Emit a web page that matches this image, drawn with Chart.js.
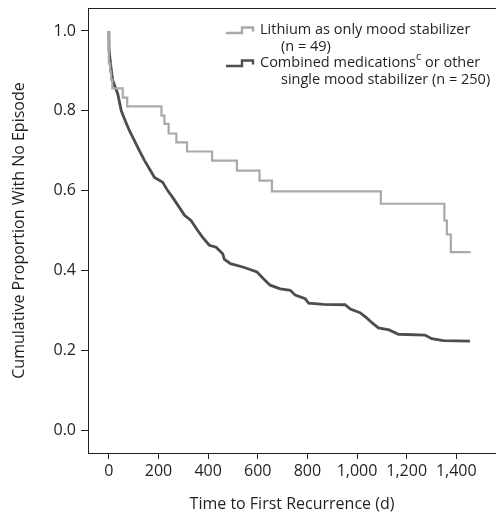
<!DOCTYPE html>
<html>
<head>
<meta charset="utf-8">
<script src="https://cdn.jsdelivr.net/npm/chart.js@4.4.1/dist/chart.umd.min.js"></script>
<style>
  html, body { margin: 0; padding: 0; background: #fff; }
  #wrap { position: relative; width: 496px; height: 515px; }
  #legend {
    position: absolute; left: 225px; top: 21px;
    font-family: "Open Sans", sans-serif; font-size: 14.5px; color: #231f20;
    line-height: 16.5px;
  }
  #legend .row { display: flex; align-items: flex-start; }
  #legend svg { width: 30px; height: 16px; flex: none; margin-right: 5px; }
  #legend .txt { white-space: nowrap; }
  #legend .cont { padding-left: 21px; }
  #legend sup { font-size: 11px; line-height: 0; position: relative; top: -1px; }
</style>
</head>
<body>
<div id="wrap">
  <canvas id="km" width="496" height="515"></canvas>
  <div id="legend"></div>
</div>
<script>
document.addEventListener('DOMContentLoaded', () => {
  // Kaplan-Meier curves (day, proportion without episode)
  const lithiumDays = [0, 0, 5, 9, 14, 56, 74, 212, 224, 241, 272, 315, 416, 516, 607, 657, 1096, 1352, 1362, 1378, 1458];
  const lithiumSurv = [1.0, 0.918, 0.898, 0.878, 0.856, 0.833, 0.811, 0.788, 0.767, 0.743, 0.721, 0.698, 0.675, 0.65, 0.625, 0.598, 0.567, 0.525, 0.49, 0.446, 0.446];

  const comboDays = [0, 1, 7, 16, 36, 50, 66, 83, 103, 123, 144, 164, 184, 217, 237, 257, 284, 305, 331, 358, 378, 405, 432, 459, 465, 490, 543, 597, 623, 650, 691, 731, 751, 791, 805, 865, 952, 973, 1012, 1039, 1060, 1086, 1129, 1167, 1274, 1301, 1348, 1455];
  const comboSurv = [1.0, 0.95, 0.917, 0.875, 0.842, 0.80, 0.775, 0.75, 0.725, 0.70, 0.675, 0.654, 0.633, 0.621, 0.60, 0.583, 0.558, 0.538, 0.525, 0.50, 0.483, 0.463, 0.458, 0.442, 0.428, 0.417, 0.408, 0.396, 0.379, 0.363, 0.354, 0.35, 0.338, 0.329, 0.318, 0.315, 0.314, 0.303, 0.294, 0.281, 0.269, 0.256, 0.251, 0.24, 0.238, 0.229, 0.224, 0.223];

  const xTicks = [0, 200, 400, 600, 800, 1000, 1200, 1400];
  const yTicks = [0.0, 0.2, 0.4, 0.6, 0.8, 1.0];

  const lithiumColor = '#a7a9ac';
  const comboColor = '#4d4d4f';
  const inkColor = '#231f20';
  const fontFamily = '"Open Sans", sans-serif';

  const toPoints = (xs, ys) => xs.map((x, i) => ({ x, y: ys[i] }));

  // legend (two-line labels with indented continuation)
  const legend = document.getElementById('legend');
  const icon = color => `<svg viewBox="0 0 30 16"><polyline points="1,12 17,12 17,6.5 28,6.5 28,10.5" fill="none" stroke="${color}" stroke-width="2.4"/></svg>`;
  legend.innerHTML =
    `<div class="row">${icon(lithiumColor)}<div class="txt">Lithium as only mood stabilizer<br><span class="cont">(n = 49)</span></div></div>` +
    `<div class="row">${icon(comboColor)}<div class="txt">Combined medications<sup>c</sup> or other<br><span class="cont">single mood stabilizer (n = 250)</span></div></div>`;

  const ctx = document.getElementById('km').getContext('2d');
  new Chart(ctx, {
    type: 'line',
    data: {
      datasets: [
        {
          label: 'Lithium as only mood stabilizer (n = 49)',
          data: toPoints(lithiumDays, lithiumSurv),
          borderColor: lithiumColor,
          borderWidth: 2.2,
          stepped: true,
          pointRadius: 0,
          fill: false
        },
        {
          label: 'Combined medications or other single mood stabilizer (n = 250)',
          data: toPoints(comboDays, comboSurv),
          borderColor: comboColor,
          borderWidth: 2.8,
          stepped: false,
          tension: 0,
          pointRadius: 0,
          fill: false
        }
      ]
    },
    options: {
      responsive: false,
      animation: false,
      layout: { padding: { top: 8, left: 0, right: 0, bottom: 0 } },
      plugins: {
        legend: { display: false },
        tooltip: { enabled: false }
      },
      scales: {
        x: {
          type: 'linear',
          min: -84,
          max: 1560,
          afterBuildTicks: s => { s.ticks = xTicks.map(v => ({ value: v })); },
          afterFit: s => { s.height = 62; s.paddingLeft = 0; s.paddingRight = 0; },
          ticks: {
            color: inkColor,
            font: { family: fontFamily, size: 16 },
            padding: 3,
            maxRotation: 0,
            callback: v => v.toLocaleString('en-US')
          },
          grid: { drawOnChartArea: false, drawTicks: true, tickLength: 6, color: inkColor },
          border: { display: true, color: inkColor, width: 1 },
          title: {
            display: true,
            text: 'Time to First Recurrence (d)',
            color: inkColor,
            font: { family: fontFamily, size: 16 },
            padding: { top: 0, bottom: 1 }
          }
        },
        xTop: {
          type: 'linear',
          position: 'top',
          min: -84,
          max: 1560,
          afterFit: s => { s.height = 0; s.paddingLeft = 0; s.paddingRight = 0; },
          ticks: { display: false },
          grid: { display: false },
          border: { display: true, color: inkColor, width: 1 }
        },
        y: {
          min: -0.0575,
          max: 1.0575,
          afterBuildTicks: s => { s.ticks = yTicks.map(v => ({ value: v })); },
          afterFit: s => { s.width = 88; s.paddingTop = 0; s.paddingBottom = 0; },
          ticks: {
            color: inkColor,
            font: { family: fontFamily, size: 16 },
            padding: 5,
            callback: v => v.toFixed(1)
          },
          grid: { drawOnChartArea: false, drawTicks: true, tickLength: 7, color: inkColor },
          border: { display: true, color: inkColor, width: 1 },
          title: {
            display: true,
            text: 'Cumulative Proportion With No Episode',
            color: inkColor,
            font: { family: fontFamily, size: 16 },
            padding: { top: 10, bottom: 0 }
          }
        }
      }
    }
  });
});
</script>
</body>
</html>
